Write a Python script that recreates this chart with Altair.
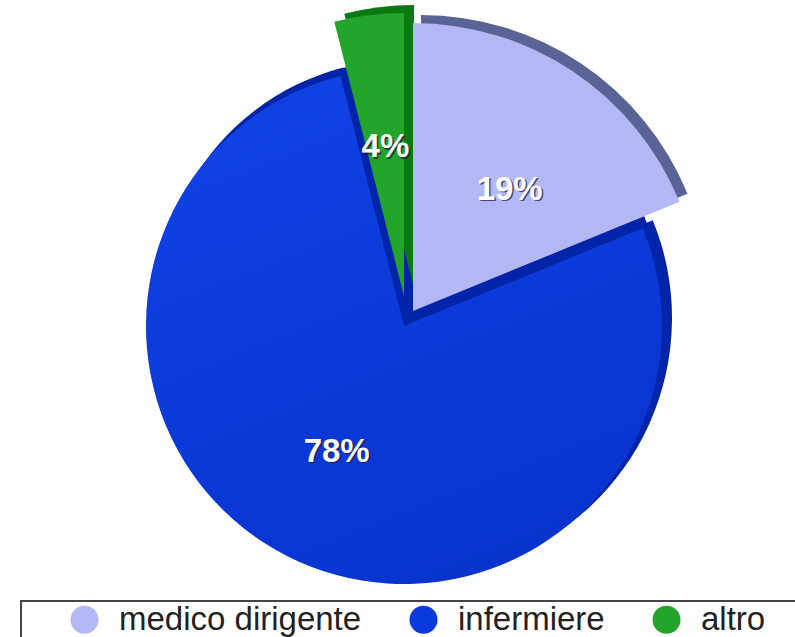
import math
import altair as alt
import pandas as pd

# ---- data ----
categories = ["medico dirigente", "infermiere", "altro"]
values = [19, 78, 4]

# ---- styles ----
face_colors = ["#b3b7f4", "#0a3ade", "#22a52a"]
depth_colors = ["#5a6396", "#0224a8", "#0c7812"]

# layout of each slice: centre, radius, depth layers (dx, dy, radius shrink),
# label radius and nudge
geom = {
    "infermiere": dict(cx=404, cy=326, r=258, depth=[(10, -8, 0), (6, -14, 5), (0, -20, 12)],
                       lr=143, ldx=-3, ldy=-2),
    "altro": dict(cx=404, cy=296, r=283, depth=[(10, -8, 0)], lr=150, ldx=0, ldy=0),
    "medico dirigente": dict(cx=413, cy=311, r=288, depth=[(8, -8, 0)], lr=152, ldx=12, ldy=5),
}
HUB_R = 80

W, H = 795, 637
FONT = "Liberation Sans"

df = pd.DataFrame({"category": categories, "value": values, "order": list(range(len(categories)))})
total = sum(values)
theta_scale = alt.Scale(domain=[0, total], range=[0, 2 * math.pi])
color_scale = alt.Scale(domain=categories, range=face_colors)

legend = alt.Legend(
    orient="none", legendX=68, legendY=603, direction="horizontal", columns=3,
    title=None, symbolType="circle", symbolSize=784, symbolStrokeWidth=0,
    labelFontSize=33, labelFont=FONT, labelColor="#222222", labelOffset=18,
    labelLimit=600, columnPadding=45, symbolOpacity=1,
)

base = (
    alt.Chart(df)
    .transform_window(end="sum(value)", sort=[alt.SortField("order")], frame=[None, 0])
    .transform_calculate(
        start="datum.end - datum.value",
        mid="datum.end - datum.value / 2",
        label="datum.value + '%'",
    )
)

shade = alt.Gradient(
    gradient="linear",
    stops=[
        alt.GradientStop(color="#2a62ff", offset=0),
        alt.GradientStop(color="#001a8c", offset=1),
    ],
    x1=0.2, y1=0, x2=0.6, y2=1,
)


def slice_layers(cat, shaded=False, hub=False):
    g = geom[cat]
    i = categories.index(cat)
    b = base.transform_filter(alt.datum.category == cat)
    th = alt.Theta("start:Q", scale=theta_scale, stack=False)
    out = []
    for ddx, ddy, shrink in g["depth"]:
        out.append(
            b.mark_arc(radius=g["r"] - shrink, color=depth_colors[i]).encode(
                theta=th, theta2="end:Q",
                x=alt.value(g["cx"] + ddx), y=alt.value(g["cy"] + ddy),
            )
        )
    if hub:
        # side walls meeting at the centre of the pie
        out.append(
            b.mark_arc(radius=HUB_R, color=depth_colors[i], theta=0, theta2=2 * math.pi).encode(
                x=alt.value(g["cx"]), y=alt.value(g["cy"]),
            )
        )
    face = b.mark_arc(radius=g["r"]).encode(
        theta=th, theta2="end:Q",
        x=alt.value(g["cx"]), y=alt.value(g["cy"]),
        color=alt.Color("category:N", scale=color_scale, legend=legend),
    )
    out.append(face)
    if shaded:
        out.append(
            b.mark_arc(radius=g["r"], fill=shade, fillOpacity=0.2).encode(
                theta=th, theta2="end:Q",
                x=alt.value(g["cx"]), y=alt.value(g["cy"]),
            )
        )
    return out


def label_layers(cat):
    g = geom[cat]
    b = base.transform_filter(alt.datum.category == cat)
    th = alt.Theta("mid:Q", scale=theta_scale, stack=False)
    shadow = b.mark_text(
        radius=g["lr"], fontSize=33, fontWeight="bold", font=FONT,
        color="#1a1a40", opacity=0.7, dx=g["ldx"] + 1.5, dy=g["ldy"] + 1.5,
    ).encode(theta=th, text="label:N", x=alt.value(g["cx"]), y=alt.value(g["cy"]))
    txt = b.mark_text(
        radius=g["lr"], fontSize=33, fontWeight="bold", font=FONT, color="white",
        dx=g["ldx"], dy=g["ldy"],
    ).encode(theta=th, text="label:N", x=alt.value(g["cx"]), y=alt.value(g["cy"]))
    return [shadow, txt]


frame = alt.Chart(pd.DataFrame({"a": [0]})).mark_rect(
    fill="white", fillOpacity=0, stroke="#444444", strokeWidth=2
).encode(x=alt.value(21), x2=alt.value(820), y=alt.value(601), y2=alt.value(680))

layers = []
layers += slice_layers("infermiere", shaded=True, hub=True)
layers += slice_layers("altro")
layers += slice_layers("medico dirigente")
for cat in categories:
    layers += label_layers(cat)
layers.append(frame)

chart = (
    alt.layer(*layers)
    .properties(width=W, height=H, padding=0, autosize="none", background="white")
    .configure_view(stroke=None)
)

chart.save("out.html", embed_options={"renderer": "svg", "actions": False})
